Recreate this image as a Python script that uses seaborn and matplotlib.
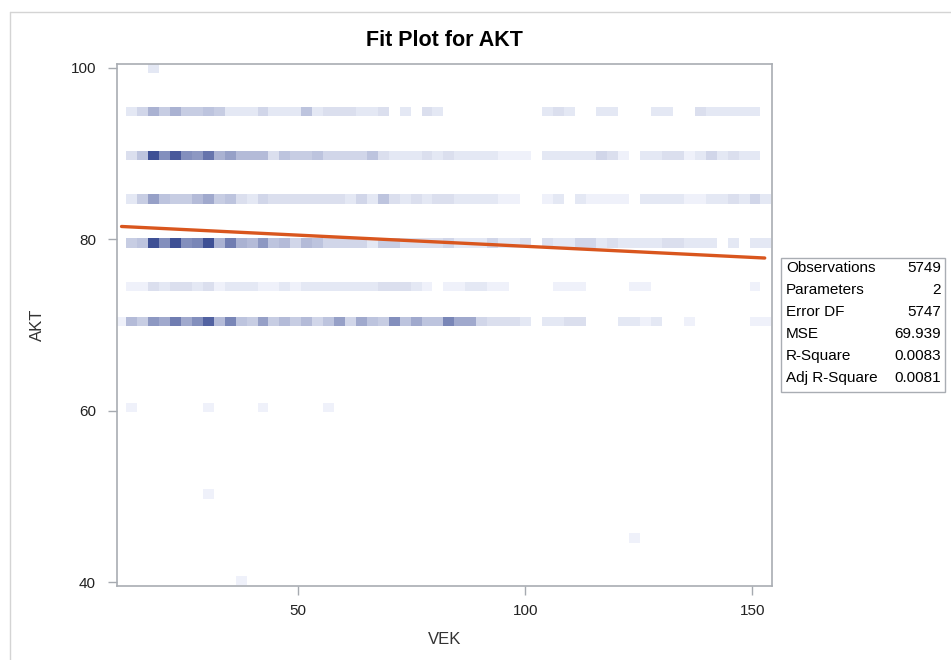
import numpy as np
import pandas as pd
import matplotlib
matplotlib.use("Agg")
import matplotlib.pyplot as plt
from matplotlib.colors import LinearSegmentedColormap
from matplotlib.lines import Line2D
from matplotlib.patches import Rectangle
import seaborn as sns

sns.set_theme(style="white")
plt.rcParams['font.family'] = ['Liberation Sans', 'DejaVu Sans']

# ---------------- data ----------------
# heat-map columns (VEK bins): 60 bins, index 0..59
vek_first_edge = 9.753
vek_bin_width = 2.407
# heat-map rows: centre of each AKT bin as drawn
akt_rows = [94.9, 89.75, 84.7, 79.57, 74.5, 70.43]
# density level per VEK bin (0 = empty, 19 = darkest)
row_95 = [0, 2, 4, 8, 5, 8, 5, 5, 6, 5, 2, 2, 2, 4, 2, 2, 2, 6, 2, 3, 3, 3, 2, 2, 3, 0, 2, 0, 3, 2,
          0, 0, 0, 0, 0, 0, 0, 0, 0, 2, 3, 2, 0, 0, 2, 2, 0, 0, 0, 2, 2, 0, 0, 3, 2, 2, 2, 2, 2, 0]
row_90 = [0, 3, 6, 19, 12, 18, 12, 11, 15, 8, 10, 7, 7, 7, 3, 6, 5, 5, 6, 4, 4, 4, 4, 6, 3, 2, 2, 2, 3, 2,
          3, 2, 2, 2, 2, 1, 1, 1, 0, 2, 2, 2, 2, 2, 4, 3, 1, 0, 2, 2, 3, 3, 1, 2, 4, 2, 3, 2, 2, 0]
row_85 = [0, 2, 5, 10, 6, 5, 5, 7, 9, 5, 6, 3, 2, 4, 3, 3, 3, 3, 3, 3, 3, 2, 4, 2, 6, 3, 2, 3, 2, 3,
          3, 2, 2, 2, 2, 1, 1, 0, 0, 1, 2, 0, 2, 1, 1, 1, 1, 0, 2, 2, 2, 2, 1, 1, 2, 2, 3, 2, 4, 2]
row_80 = [0, 5, 6, 19, 12, 19, 12, 13, 19, 8, 14, 8, 7, 11, 6, 7, 4, 7, 6, 4, 4, 4, 4, 2, 5, 5, 3, 3, 3, 3,
          4, 2, 2, 2, 4, 2, 2, 3, 0, 3, 2, 2, 4, 4, 2, 3, 2, 2, 2, 2, 3, 3, 2, 2, 2, 0, 2, 0, 2, 2]
row_75 = [0, 1, 1, 3, 2, 3, 3, 2, 3, 1, 2, 2, 2, 1, 1, 2, 1, 2, 2, 2, 2, 2, 2, 2, 3, 3, 3, 2, 1, 0,
          1, 1, 2, 2, 1, 1, 0, 0, 0, 0, 1, 1, 1, 0, 0, 0, 0, 1, 1, 0, 0, 0, 0, 0, 0, 0, 0, 0, 1, 0]
row_70 = [1, 7, 5, 11, 9, 14, 9, 12, 17, 7, 13, 6, 5, 10, 5, 7, 5, 7, 4, 6, 10, 4, 9, 6, 5, 12, 6, 9, 6, 6,
          13, 9, 9, 4, 3, 3, 3, 2, 0, 2, 2, 3, 3, 0, 0, 0, 2, 2, 1, 2, 0, 0, 1, 0, 0, 0, 0, 0, 1, 1]
# isolated cells: AKT row centre, VEK bin index, level
sparse_akt = [100.0, 60.35, 60.35, 60.35, 60.35, 50.28, 45.15, 40.2]
sparse_col = [3, 1, 8, 13, 19, 8, 47, 11]
sparse_level = [2, 1, 1, 1, 1, 1, 1, 1]

# fitted regression line end points
fit_vek = [11.1, 152.7]
fit_akt = [81.5, 77.82]

# fit statistics
stat_names = ["Observations", "Parameters", "Error DF", "MSE", "R-Square", "Adj R-Square"]
stat_values = ["5749", "2", "5747", "69.939", "0.0083", "0.0081"]

x_ticks = [50, 100, 150]
y_ticks = [40, 60, 80, 100]

# ---------------- build long table ----------------
dense_rows = [row_95, row_90, row_85, row_80, row_75, row_70]
recs = []
for akt, levels in zip(akt_rows, dense_rows):
    for j, lev in enumerate(levels):
        if lev > 0:
            recs.append((vek_first_edge + (j + 0.5) * vek_bin_width, akt, lev))
for akt, j, lev in zip(sparse_akt, sparse_col, sparse_level):
    recs.append((vek_first_edge + (j + 0.5) * vek_bin_width, akt, lev))
df = pd.DataFrame(recs, columns=["VEK", "AKT", "level"])

x_edges = vek_first_edge + vek_bin_width * np.arange(61)
all_centres = sorted(set(akt_rows) | set(sparse_akt))
half_h = 0.55
y_edges = []
for c in all_centres:
    y_edges += [c - half_h, c + half_h]
y_edges = np.array(y_edges)

# ---------------- figure ----------------
W, H = 951, 660
fig = plt.figure(figsize=(W / 100, H / 100), dpi=100)
fig.patch.set_facecolor("white")
L, R, T, B = 117, 772, 64, 586
ax = fig.add_axes([L / W, 1 - B / H, (R - L) / W, (B - T) / H])

cmap = LinearSegmentedColormap.from_list("sasblue", ["#F3F5FC", "#3A4C93"])
sns.histplot(data=df, x="VEK", y="AKT", weights="level",
             bins=(x_edges, y_edges), cmap=cmap, vmin=0.5, vmax=19.5, ax=ax)
sns.lineplot(x=fit_vek, y=fit_akt, color="#D9561E", linewidth=2.4, ax=ax)

ax.set_xlim(10.1, 154.3)
ax.set_ylim(39.55, 100.46)
ax.set_xticks(x_ticks)
ax.set_yticks(y_ticks)
ax.set_xlabel("")
ax.set_ylabel("")
ax.tick_params(axis="both", direction="out", length=6.2, width=1, color="#A6AAB0",
               labelsize=11, labelcolor="#222222", left=True, bottom=True)
ax.tick_params(axis="x", pad=6.5)
ax.tick_params(axis="y", pad=9)
for s in ax.spines.values():
    s.set_color("#A9ADB3")
    s.set_linewidth(1.2)

fig.text((L + R) / 2 / W, 1 - 41 / H, "Fit Plot for AKT", ha="center", va="center",
         fontsize=15.5, fontweight="bold", color="#000000")
fig.text((L + R) / 2 / W, 1 - 639 / H, "VEK", ha="center", va="center",
         fontsize=12, color="#333333")
fig.text(37 / W, 1 - 325 / H, "AKT", ha="center", va="center", rotation=90,
         fontsize=12, color="#333333")

# stats box
fig.add_artist(Rectangle((781 / W, 1 - 392 / H), (945 - 781) / W, (392 - 258) / H,
                         transform=fig.transFigure, facecolor="white",
                         edgecolor="#A9ADB3", linewidth=1.0))
for i, (nm, val) in enumerate(zip(stat_names, stat_values)):
    yy = 1 - (268.5 + 21.9 * i) / H
    fig.text(786 / W, yy, nm, ha="left", va="center", fontsize=11, color="#000000")
    fig.text(941 / W, yy, val, ha="right", va="center", fontsize=11, color="#000000")

# outer frame of the graph area
fig.add_artist(Line2D([10 / W, 10 / W], [0, 1 - 12 / H], transform=fig.transFigure,
                      color="#D4D4D4", linewidth=1))
fig.add_artist(Line2D([10 / W, 1], [1 - 12 / H, 1 - 12 / H], transform=fig.transFigure,
                      color="#D4D4D4", linewidth=1))

fig.savefig("out.png", dpi=100)
